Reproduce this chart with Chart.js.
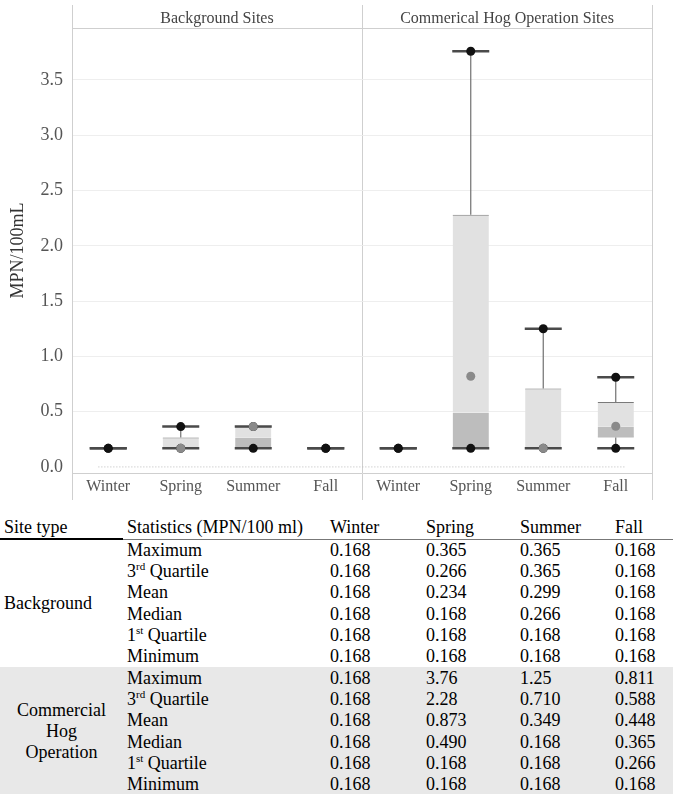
<!DOCTYPE html>
<html lang="en">
<head>
<meta charset="UTF-8">
<title>MPN/100mL by season and site type</title>
<script src="https://cdn.jsdelivr.net/npm/chart.js"></script>
<style>
    body {
        margin: 0;
        background: #fff;
        font-family: "Liberation Serif", "DejaVu Serif", serif;
        color: #000;
    }
    #chartBox {
        width: 673px;
        height: 500px;
    }
    table {
        border-collapse: collapse;
        table-layout: fixed;
        width: 673px;
        margin-top: 17px;
        font-size: 18px;
    }
    th, td {
        padding: 0 0 0 4px;
        text-align: left;
        font-weight: normal;
        white-space: nowrap;
    }
    th {
        height: 21px;
        line-height: 21px;
        border-bottom: 1px solid #777;
    }
    th.first {
        border-bottom: 2px solid #000;
    }
    td {
        height: 21.33px;
        line-height: 21px;
    }
    tr.hog td {
        background: #e8e8e8;
    }
    td.site {
        vertical-align: middle;
    }
    td.center {
        text-align: center;
        padding: 0;
        white-space: normal;
    }
    sup {
        font-size: 11px;
        line-height: 0;
    }
</style>
</head>
<body>
<div id="chartBox">
    <canvas id="boxChart" width="673" height="500"></canvas>
</div>
<table id="statsTable">
    <colgroup>
        <col style="width:123px"><col style="width:203px"><col style="width:96px">
        <col style="width:94px"><col style="width:95px"><col style="width:62px">
    </colgroup>
    <thead></thead>
    <tbody></tbody>
</table>

<script>
    const seasons = ['Winter', 'Spring', 'Summer', 'Fall'];
    const facets = ['Background Sites', 'Commerical Hog Operation Sites'];
    const siteTypes = ['Background', 'Commercial<br>Hog<br>Operation'];

    // background winter..fall, then hog operation winter..fall
    const maxVals    = [0.168, 0.365, 0.365, 0.168, 0.168, 3.76,  1.25,  0.811];
    const q3Vals     = [0.168, 0.266, 0.365, 0.168, 0.168, 2.28,  0.710, 0.588];
    const meanVals   = [0.168, 0.234, 0.299, 0.168, 0.168, 0.873, 0.349, 0.448];
    const medianVals = [0.168, 0.168, 0.266, 0.168, 0.168, 0.490, 0.168, 0.365];
    const q1Vals     = [0.168, 0.168, 0.168, 0.168, 0.168, 0.168, 0.168, 0.266];
    const minVals    = [0.168, 0.168, 0.168, 0.168, 0.168, 0.168, 0.168, 0.168];
    // grey points as drawn on the chart
    const greyDots   = [null,  0.168, 0.365, null,  null,  0.82,  0.168, 0.368];

    const labels = facets.flatMap(() => seasons);
    const serif = '"Liberation Serif", "DejaVu Serif", serif';
    const lineGrey = '#cfcfcf';

    function boxSet(label, data, color, border) {
        return {
            label: label, data: data, backgroundColor: color, borderColor: '#7a7a7a',
            borderWidth: border, borderSkipped: false, grouped: false,
            barPercentage: 0.5, categoryPercentage: 1, order: 8
        };
    }

    function whiskerSet(label, data) {
        return {
            label: label, data: data, backgroundColor: '#707070', grouped: false,
            maxBarThickness: 1.2, order: 6
        };
    }

    function capSet(label, data) {
        return {
            type: 'line', label: label, data: data, showLine: false,
            pointStyle: 'line', pointRadius: 18.5, pointBorderWidth: 2.5,
            pointBorderColor: '#4a4a4a', pointHoverRadius: 18.5, order: 4
        };
    }

    function dotSet(label, data, color, order) {
        return {
            type: 'line', label: label, data: data, showLine: false,
            pointRadius: 4.5, pointBackgroundColor: color, pointBorderColor: color,
            pointBorderWidth: 0, order: order
        };
    }

    new Chart(document.getElementById('boxChart'), {
        type: 'bar',
        data: {
            labels: labels,
            datasets: [
                boxSet('Q1 - median', q1Vals.map((v, i) => [v, medianVals[i]]), '#bdbdbd',
                    { top: 0, right: 0, bottom: 1, left: 0 }),
                boxSet('median - Q3', medianVals.map((v, i) => [v, q3Vals[i]]), '#e1e1e1',
                    { top: 1, right: 0, bottom: 0, left: 0 }),
                whiskerSet('upper whisker', q3Vals.map((v, i) => [v, maxVals[i]])),
                whiskerSet('lower whisker', minVals.map((v, i) => [v, q1Vals[i]])),
                capSet('max cap', maxVals),
                capSet('min cap', minVals),
                dotSet('max', maxVals, '#111', 3),
                dotSet('min', minVals, '#111', 3),
                dotSet('points', greyDots, '#8a8a8a', 2),
                {
                    type: 'line', label: 'zero', xAxisID: 'xz',
                    data: [{ x: 0, y: 0 }, { x: 1, y: 0 }],
                    borderColor: '#bbb', borderWidth: 1, borderDash: [1, 2],
                    pointRadius: 0, order: 9
                }
            ]
        },
        options: {
            responsive: false,
            animation: false,
            layout: { padding: { top: 5, right: 5, bottom: 0, left: 0 } },
            plugins: {
                legend: { display: false },
                tooltip: { enabled: false }
            },
            scales: {
                x: {
                    offset: true,
                    grid: {
                        offset: true,
                        tickLength: 27,
                        color: ctx => (ctx.index === undefined || ctx.index % 4 === 0) ? lineGrey : 'rgba(0,0,0,0)'
                    },
                    border: { color: lineGrey },
                    ticks: {
                        color: '#555', padding: -23, maxRotation: 0, autoSkip: false,
                        font: { family: serif, size: 16 }
                    },
                    afterFit: s => { s.height = 27; }
                },
                x2: {
                    type: 'category',
                    position: 'top',
                    labels: facets,
                    offset: true,
                    grid: { offset: true, drawOnChartArea: false, tickLength: 23, color: lineGrey },
                    border: { color: lineGrey },
                    ticks: { color: '#444', padding: -23, font: { family: serif, size: 16 } },
                    afterFit: s => { s.height = 23; }
                },
                xz: { type: 'linear', display: false, min: 0, max: 1 },
                y: {
                    min: -0.055,
                    max: 3.97,
                    grid: {
                        drawTicks: false,
                        color: ctx => (ctx.tick && ctx.tick.value === 0) ? 'rgba(0,0,0,0)' : '#eeeeee'
                    },
                    border: { color: lineGrey },
                    ticks: {
                        stepSize: 0.5, includeBounds: false, padding: 9, color: '#555',
                        font: { family: serif, size: 18 },
                        callback: v => v.toFixed(1)
                    },
                    title: {
                        display: true, text: 'MPN/100mL', color: '#333',
                        font: { family: serif, size: 18 }, padding: { top: 7, bottom: 0 }
                    },
                    afterFit: s => { s.width = 72; }
                }
            }
        }
    });

    // statistics table
    const statRows = [
        ['Maximum', maxVals],
        ['3<sup>rd</sup> Quartile', q3Vals],
        ['Mean', meanVals],
        ['Median', medianVals],
        ['1<sup>st</sup> Quartile', q1Vals],
        ['Minimum', minVals]
    ];

    const table = document.getElementById('statsTable');
    table.tHead.innerHTML = '<tr><th class="first">Site type</th><th>Statistics (MPN/100 ml)</th>' +
        seasons.map(s => `<th>${s}</th>`).join('') + '</tr>';

    let body = '';
    siteTypes.forEach((site, k) => {
        statRows.forEach((row, r) => {
            let html = `<tr class="${k === 1 ? 'hog' : ''}">`;
            if (r === 0) {
                html += `<td rowspan="${statRows.length}" class="site${k === 1 ? ' center' : ''}">${site}</td>`;
            }
            html += `<td>${row[0]}</td>`;
            for (let s = 0; s < seasons.length; s++) {
                html += `<td>${row[1][k * 4 + s].toPrecision(3)}</td>`;
            }
            body += html + '</tr>';
        });
    });
    table.tBodies[0].innerHTML = body;
</script>
</body>
</html>
